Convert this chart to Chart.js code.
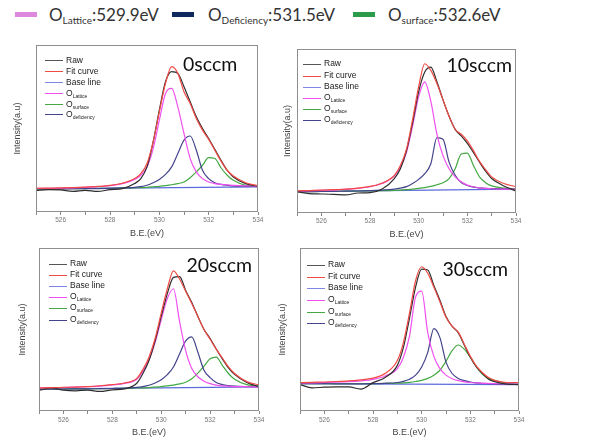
<!DOCTYPE html>
<html>
<head>
<meta charset="utf-8">
<script src="https://cdn.jsdelivr.net/npm/chart.js@4.4.1/dist/chart.umd.min.js"></script>
<style>
  body { margin: 0; background: #fff; }
  #wrap { position: relative; width: 589px; height: 438px; overflow: hidden; font-family: "Liberation Sans", Arial, sans-serif; }
  .plot { position: absolute; }
  .ttl { position: absolute; font-family: Lato, sans-serif; font-size: 19.5px; line-height: 1; color: #111; white-space: nowrap; }
  .leg { position: absolute; font-size: 8.5px; color: #222; }
  .leg div { position: relative; white-space: nowrap; padding-left: 21px; }
  .leg i { position: absolute; left: 0; width: 18px; height: 1px; }
  .leg sub { font-size: 5px; vertical-align: -2px; }
  .top { position: absolute; font-family: Lato, sans-serif; font-size: 17px; line-height: 1; color: #333; white-space: nowrap; }
  .top sub { font-size: 10px; vertical-align: -3px; }
  .sw { position: absolute; height: 5px; }
</style>
</head>
<body>
<div id="wrap"></div>
<script>
// binding energy grid (eV)
const X = [525, 525.5, 526, 526.5, 527, 527.5, 528, 528.5, 529, 529.25, 529.5, 529.75, 530, 530.25,
           530.5, 530.75, 531, 531.25, 531.5, 531.75, 532, 532.25, 532.5, 532.75, 533, 533.5, 534];
const baseX = [525, 534];
const tickLabels = [526, 528, 530, 532, 534];
const titles = ["0sccm", "10sccm", "20sccm", "30sccm"];

// 0sccm
const raw0  = [12.8, 13.4, 13.2, 12.4, 13.0, 12.3, 13.4, 14.0, 17, 20, 27, 42, 61, 78, 84, 83, 75, 66, 57, 50, 44, 37.5, 31, 25, 21, 17, 15.5];
const fit0  = [14.2, 14.3, 14.4, 14.6, 14.9, 15.3, 15.9, 17.2, 20, 23, 29, 42, 60, 77, 87, 83, 72, 65, 56, 49, 43.5, 37, 30.5, 25, 21.5, 17.5, 15.8];
const lat0  = [14.1, 14.2, 14.3, 14.5, 14.8, 15.2, 15.8, 17, 19.5, 22, 27, 38, 55, 71, 74, 63, 47, 32, 24, 20, 18, 17, 16.5, 16.2, 16, 15.7, 15.5];
const sur0  = [13.8, 13.85, 13.9, 14, 14.05, 14.1, 14.2, 14.3, 14.5, 14.6, 14.8, 15.1, 15.4, 15.8, 16.3, 17, 18, 20.5, 24, 28, 32.5, 32, 26.5, 22, 19, 16, 15.3];
const def0  = [13.8, 13.85, 13.9, 13.95, 14, 14.05, 14.2, 14.4, 14.8, 15.2, 16, 17.5, 19.5, 22.5, 27, 35, 43, 45.5, 37, 25, 20, 17.5, 16.5, 16, 15.7, 15.4, 15.2];
const base0 = [13.8, 15.0];

// 10sccm
const raw1  = [13, 11.8, 11.6, 11.4, 11, 12.2, 12.4, 14.6, 21, 27, 38, 55, 74, 86, 89, 80, 69, 59, 51, 47, 42.5, 37, 31, 25.5, 21, 16.5, 13.4];
const fit1  = [13.5, 13.7, 13.9, 14.2, 14.6, 15.2, 16.2, 18.3, 23, 29, 39, 57, 77, 91, 87, 79, 69, 59, 51, 48, 44, 38, 31.5, 26.5, 22, 18, 16];
const lat1  = [13.4, 13.6, 13.8, 14.0, 14.4, 15.0, 16, 18, 22.5, 28, 37, 53, 71, 80, 68, 48, 35, 27, 22, 19, 17, 16, 15.3, 15, 14.8, 14.6, 14.5];
const sur1  = [13, 13.05, 13.1, 13.2, 13.3, 13.4, 13.5, 13.6, 13.8, 14, 14.2, 14.6, 15, 15.5, 16.2, 17.2, 18.5, 21, 27, 36, 36.5, 29, 22, 18.5, 16.5, 15.2, 14.8];
const def1  = [13, 13.05, 13.1, 13.2, 13.3, 13.4, 13.6, 14, 14.6, 15.2, 16.1, 18, 20.5, 24, 30, 46, 45, 31, 23, 18.5, 16.8, 15.8, 15.3, 15.0, 14.9, 14.7, 14.6];
const base1 = [13.0, 14.6];

// 20sccm
const raw2  = [12.6, 14.1, 12.8, 12.4, 12.8, 12, 13, 13.6, 17, 23, 31, 43, 58, 72, 82, 82.5, 74, 66.5, 58, 50, 44.5, 38, 32, 26.5, 22.5, 17.5, 15];
const fit2  = [14.2, 14.3, 14.5, 14.7, 15.0, 15.5, 16.2, 17.2, 20, 25.5, 33, 44.5, 60, 75, 86, 81, 73.5, 66, 58, 50, 44, 38, 32.5, 27, 23, 18, 16];
const lat2  = [14.1, 14.2, 14.4, 14.6, 14.9, 15.3, 16, 16.9, 19.5, 24.5, 31.5, 42, 56, 69, 75, 55, 37, 26, 21, 18.3, 16.8, 15.9, 15.4, 15.2, 15.0, 14.9, 14.8];
const sur2  = [13.4, 13.45, 13.5, 13.6, 13.65, 13.7, 13.8, 13.9, 14.1, 14.2, 14.4, 14.7, 15, 15.4, 15.9, 16.6, 17.6, 19.8, 23.2, 27.5, 32, 33, 28, 23, 19.5, 16.2, 15.2];
const def2  = [13.4, 13.45, 13.5, 13.55, 13.6, 13.7, 13.8, 14, 14.5, 15, 15.8, 17.2, 19.2, 22.3, 27, 35, 43, 45.5, 36, 25, 20.5, 17.5, 16.2, 15.6, 15.3, 15, 14.8];
const base2 = [13.4, 14.8];

// 30sccm
const raw3  = [16.2, 14.2, 14.6, 14.8, 14.8, 13.4, 17.4, 20.5, 28, 39, 57, 76, 87, 86.5, 77, 68, 58, 52, 48, 40.5, 33, 27, 23, 19.5, 18, 16.5, 16.2];
const fit3  = [17.4, 17.6, 17.8, 18.1, 18.5, 19.1, 20.2, 23, 31, 42, 60, 80, 88.5, 84.5, 76, 67, 57.5, 52, 48.5, 41, 33.5, 27.5, 23.5, 20.5, 18.8, 17.5, 17.5];
const lat3  = [17.2, 17.3, 17.5, 17.7, 18, 18.5, 19.4, 21.5, 26, 33, 46, 70, 73.5, 48, 33.5, 26, 22, 19.8, 18.6, 17.9, 17.5, 17.2, 17, 16.9, 16.8, 16.6, 16.5];
const sur3  = [16.8, 16.8, 16.8, 16.8, 16.8, 16.8, 16.8, 16.9, 17.1, 17.3, 17.6, 18.1, 18.8, 20, 22, 25, 30.5, 37, 40.5, 38, 33, 27, 22.5, 20, 18.6, 17, 16.5];
const def3  = [16.8, 16.8, 16.75, 16.7, 16.7, 16.7, 16.8, 17, 17.5, 18.2, 19.5, 22, 27, 36, 50.5, 45, 30, 23, 20, 18.6, 17.8, 17.3, 17, 16.8, 16.6, 16.4, 16.3];
const base3 = [16.8, 16.2];

const sets = [
  [raw0, fit0, lat0, sur0, def0, base0],
  [raw1, fit1, lat1, sur1, def1, base1],
  [raw2, fit2, lat2, sur2, def2, base2],
  [raw3, fit3, lat3, sur3, def3, base3]
];

const C = { raw: "#2e2e2e", fit: "#ef4a44", base: "#5c6bdc", lat: "#f050f0", sur: "#44a844", def: "#44448c" };

// frame boxes of the 4 panels (layout only)
const panels = [
  { l: 36,  t: 45,  r: 258, b: 212, wy: 24, hx: 27, tp: 1, tx: 183,   ty: 53.5, lx: 45,  ly: 55,  ls: 10.9 },
  { l: 297, t: 49,  r: 516, b: 213, wy: 15, hx: 27, tp: 1, tx: 446.5, ty: 55,   lx: 303, ly: 58.4, ls: 11.2 },
  { l: 39,  t: 248, r: 259, b: 411, wy: 22, hx: 27, tp: 2, tx: 186.5, ty: 255,  lx: 49,  ly: 257.7, ls: 11.2 },
  { l: 300, t: 248, r: 519, b: 411, wy: 23, hx: 27, tp: 2, tx: 442.5, ty: 259,  lx: 307, ly: 259.2, ls: 11.6 }
];

const wrap = document.getElementById("wrap");

const frame = {
  id: "frame",
  afterDatasetsDraw(c) {
    const a = c.chartArea, g = c.ctx;
    g.save();
    g.strokeStyle = "#8f8f8f";
    g.lineWidth = 1;
    g.strokeRect(Math.round(a.left) + 0.5, Math.round(a.top) + 0.5, Math.round(a.right - a.left) - 1, Math.round(a.bottom - a.top) - 1);
    g.restore();
  }
};

function pts(xs, ys) {
  return xs.map((x, i) => ({ x: x, y: ys[i] }));
}

function line(label, xs, ys, color) {
  return { label: label, data: pts(xs, ys), borderColor: color, borderWidth: 1.2, pointRadius: 0, fill: false, cubicInterpolationMode: "monotone" };
}

panels.forEach((p, k) => {
  const [raw, fit, lat, sur, def, base] = sets[k];
  const box = document.createElement("div");
  box.className = "plot";
  box.style.left = (p.l - p.wy) + "px";
  box.style.top = (p.t - 6) + "px";
  box.style.width = (p.wy + (p.r - p.l) + 8) + "px";
  box.style.height = (6 + (p.b - p.t) + p.hx) + "px";
  const cv = document.createElement("canvas");
  box.appendChild(cv);
  wrap.appendChild(box);

  new Chart(cv, {
    type: "line",
    data: {
      datasets: [
        line("Fit curve", X, fit, C.fit),
        line("Raw", X, raw, C.raw),
        line("O Lattice", X, lat, C.lat),
        line("O deficiency", X, def, C.def),
        line("O surface", X, sur, C.sur),
        line("Base line", baseX, base, C.base)
      ]
    },
    options: {
      responsive: true,
      maintainAspectRatio: false,
      animation: false,
      layout: { padding: { top: 6, right: 8, left: 0, bottom: 0 } },
      plugins: { legend: { display: false }, tooltip: { enabled: false } },
      scales: {
        x: {
          type: "linear", min: 525, max: 534,
          ticks: { stepSize: 1, autoSkip: false, maxRotation: 0, padding: p.tp, color: "#777", font: { size: 6.5 },
                   callback: v => tickLabels.includes(v) ? v : "" },
          grid: { drawOnChartArea: false, tickLength: 3, color: "#888" },
          border: { display: false },
          title: { display: true, text: "B.E.(eV)", color: "#444", font: { size: 9 }, padding: 0 },
          afterFit: a => { a.height = p.hx; }
        },
        y: {
          min: 0, max: 100,
          ticks: { display: false },
          grid: { display: false, drawTicks: false },
          border: { display: false },
          title: { display: true, text: "Intensity(a.u)", color: "#444", font: { size: 9 }, padding: 0 },
          afterFit: a => { a.width = p.wy; }
        }
      }
    },
    plugins: [frame]
  });

  const t = document.createElement("div");
  t.className = "ttl";
  t.style.left = p.tx + "px";
  t.style.top = p.ty + "px";
  t.textContent = titles[k];
  wrap.appendChild(t);

  const leg = document.createElement("div");
  leg.className = "leg";
  leg.style.left = p.lx + "px";
  leg.style.top = p.ly + "px";
  const rows = [
    ["#555", "Raw"], [C.fit, "Fit curve"], ["#7f86e6", "Base line"],
    [C.lat, "O<sub>Lattice</sub>"], [C.sur, "O<sub>surface</sub>"], [C.def, "O<sub>deficiency</sub>"]
  ];
  leg.innerHTML = rows.map(r =>
    `<div style="height:${p.ls}px;line-height:${p.ls}px"><i style="background:${r[0]};top:${Math.round(p.ls / 2)}px"></i>${r[1]}</div>`).join("");
  wrap.appendChild(leg);
});

// figure legend
const topItems = [
  { sx: 15,  tx: 49,  color: "#dd88dd", html: "O<sub>Lattice</sub>:529.9eV" },
  { sx: 172, tx: 208, color: "#0e2a5c", html: "O<sub>Deficiency</sub>:531.5eV" },
  { sx: 353, tx: 388, color: "#2d9c4a", html: "O<sub>surface</sub>:532.6eV" }
];
topItems.forEach(it => {
  const s = document.createElement("div");
  s.className = "sw";
  s.style.left = it.sx + "px";
  s.style.top = "12px";
  s.style.width = "22px";
  s.style.background = it.color;
  wrap.appendChild(s);
  const t = document.createElement("div");
  t.className = "top";
  t.style.left = it.tx + "px";
  t.style.top = "6px";
  t.innerHTML = it.html;
  wrap.appendChild(t);
});
</script>
</body>
</html>
